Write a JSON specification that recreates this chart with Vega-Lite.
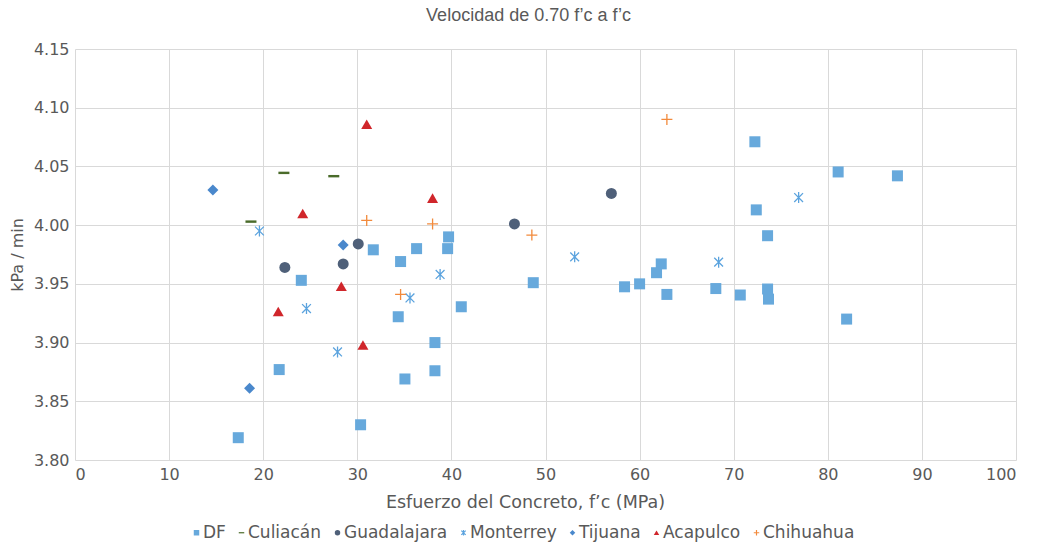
{
  "$schema": "https://vega.github.io/schema/vega-lite/v6.json",
  "width": 941,
  "height": 411,
  "autosize": {"type": "none"},
  "padding": {"left": 75, "top": 49, "right": 26, "bottom": 86},
  "background": "white",
  "title": {
    "text": "Velocidad de 0.70 f’c  a   f’c",
    "font": "Liberation Sans",
    "fontSize": 18,
    "fontWeight": "normal",
    "color": "#595959",
    "offset": 16,
    "anchor": "middle",
    "dx": -17
  },
  "data": {
    "values": [
      {"city": "DF", "x": 17.35, "y": 3.819},
      {"city": "DF", "x": 21.7, "y": 3.877},
      {"city": "DF", "x": 24.05, "y": 3.953},
      {"city": "DF", "x": 30.35, "y": 3.83},
      {"city": "DF", "x": 31.7, "y": 3.979},
      {"city": "DF", "x": 34.6, "y": 3.969},
      {"city": "DF", "x": 34.35, "y": 3.922},
      {"city": "DF", "x": 35.06, "y": 3.869},
      {"city": "DF", "x": 36.3, "y": 3.98},
      {"city": "DF", "x": 38.25, "y": 3.9},
      {"city": "DF", "x": 38.25, "y": 3.876},
      {"city": "DF", "x": 39.7, "y": 3.99},
      {"city": "DF", "x": 39.6, "y": 3.98},
      {"city": "DF", "x": 41.05, "y": 3.9305},
      {"city": "DF", "x": 48.7, "y": 3.951},
      {"city": "DF", "x": 58.4, "y": 3.9475},
      {"city": "DF", "x": 60.0, "y": 3.95},
      {"city": "DF", "x": 62.3, "y": 3.967},
      {"city": "DF", "x": 61.8, "y": 3.9595},
      {"city": "DF", "x": 62.9, "y": 3.941},
      {"city": "DF", "x": 68.1, "y": 3.946},
      {"city": "DF", "x": 70.7, "y": 3.9405},
      {"city": "DF", "x": 72.25, "y": 4.071},
      {"city": "DF", "x": 72.4, "y": 4.013},
      {"city": "DF", "x": 73.6, "y": 3.991},
      {"city": "DF", "x": 73.6, "y": 3.9456},
      {"city": "DF", "x": 73.7, "y": 3.937},
      {"city": "DF", "x": 81.1, "y": 4.0453},
      {"city": "DF", "x": 87.4, "y": 4.042},
      {"city": "DF", "x": 82.0, "y": 3.92},
      {"city": "Culiacán", "x": 18.7, "y": 4.003},
      {"city": "Culiacán", "x": 22.2, "y": 4.0445},
      {"city": "Culiacán", "x": 27.5, "y": 4.0417},
      {"city": "Guadalajara", "x": 22.3, "y": 3.964},
      {"city": "Guadalajara", "x": 28.5, "y": 3.967},
      {"city": "Guadalajara", "x": 30.1, "y": 3.984},
      {"city": "Guadalajara", "x": 46.7, "y": 4.001},
      {"city": "Guadalajara", "x": 57.0, "y": 4.027},
      {"city": "Monterrey", "x": 19.6, "y": 3.995},
      {"city": "Monterrey", "x": 24.6, "y": 3.929},
      {"city": "Monterrey", "x": 27.9, "y": 3.892},
      {"city": "Monterrey", "x": 35.6, "y": 3.938},
      {"city": "Monterrey", "x": 38.8, "y": 3.958},
      {"city": "Monterrey", "x": 53.1, "y": 3.973},
      {"city": "Monterrey", "x": 68.4, "y": 3.9685},
      {"city": "Monterrey", "x": 76.9, "y": 4.0235},
      {"city": "Tijuana", "x": 14.65, "y": 4.03},
      {"city": "Tijuana", "x": 28.5, "y": 3.983},
      {"city": "Tijuana", "x": 18.55, "y": 3.861},
      {"city": "Acapulco", "x": 24.2, "y": 4.01},
      {"city": "Acapulco", "x": 38.0, "y": 4.023},
      {"city": "Acapulco", "x": 28.3, "y": 3.948},
      {"city": "Acapulco", "x": 21.6, "y": 3.9265},
      {"city": "Acapulco", "x": 30.6, "y": 3.898},
      {"city": "Acapulco", "x": 31.0, "y": 4.086},
      {"city": "Chihuahua", "x": 31.0, "y": 4.004},
      {"city": "Chihuahua", "x": 38.0, "y": 4.001},
      {"city": "Chihuahua", "x": 34.6, "y": 3.941},
      {"city": "Chihuahua", "x": 48.55, "y": 3.9915},
      {"city": "Chihuahua", "x": 62.9, "y": 4.09}
    ]
  },
  "mark": {"type": "point", "filled": false, "size": 121, "strokeWidth": 1.3, "opacity": 1},
  "encoding": {
    "x": {
      "field": "x",
      "type": "quantitative",
      "scale": {"domain": [0, 100], "nice": false, "zero": false},
      "axis": {"values": [0,10,20,30,40,50,60,70,80,90,100], "labelOverlap": false, "title": "Esfuerzo del Concreto, f’c (MPa)", "titlePadding": 11, "titleX": 450, "titleAlign": "center", "titleFontSize": 17.5}
    },
    "y": {
      "field": "y",
      "type": "quantitative",
      "scale": {"domain": [3.8, 4.15], "nice": false, "zero": false},
      "axis": {"values": [3.8, 3.85, 3.9, 3.95, 4.0, 4.05, 4.1, 4.15], "labelOverlap": false, "format": ".2f", "title": "kPa / min", "titlePadding": 8}
    },
    "shape": {
      "field": "city",
      "type": "nominal",
      "sort": null,
      "scale": {
        "domain": ["DF", "Culiacán", "Guadalajara", "Monterrey", "Tijuana", "Acapulco", "Chihuahua"],
        "range": ["square", "M-1,-0.22L1,-0.22L1,0.22L-1,0.22Z", "circle", "M-0.8,-0.8L0.8,0.8M-0.8,0.8L0.8,-0.8M0,-1L0,1", "diamond", "triangle-up", "M-1,0L1,0M0,-1L0,1"]
      },
      "legend": {"title": null}
    },
    "fill": {
      "field": "city",
      "type": "nominal",
      "sort": null,
      "scale": {
        "domain": ["DF", "Culiacán", "Guadalajara", "Monterrey", "Tijuana", "Acapulco", "Chihuahua"],
        "range": ["#67A9DC", "#4A6B2A", "#4F6079", "transparent", "#4A88CC", "#D0262B", "transparent"]
      },
      "legend": null
    },
    "stroke": {
      "field": "city",
      "type": "nominal",
      "sort": null,
      "scale": {
        "domain": ["DF", "Culiacán", "Guadalajara", "Monterrey", "Tijuana", "Acapulco", "Chihuahua"],
        "range": ["transparent", "transparent", "transparent", "#5BA3DE", "transparent", "transparent", "#F28A3C"]
      },
      "legend": null
    }
  },
  "config": {
    "font": "DejaVu Sans",
    "view": {"stroke": null},
    "axis": {
      "grid": true,
      "gridColor": "#D9D9D9",
      "gridWidth": 1,
      "domain": false,
      "ticks": false,
      "labelFont": "DejaVu Sans",
      "labelFontSize": 16,
      "labelColor": "#595959",
      "titleFont": "DejaVu Sans",
      "titleFontSize": 16,
      "titleFontWeight": "normal",
      "titleColor": "#595959",
      "labelPadding": 6
    },
    "legend": {
      "orient": "none",
      "legendX": 113,
      "legendY": 475,
      "direction": "horizontal",
      "labelFont": "DejaVu Sans",
      "labelFontSize": 17,
      "labelColor": "#595959",
      "symbolSize": 30,
      "symbolStrokeWidth": 1.2,
      "labelOffset": -2,
      "columnPadding": 7,
      "padding": 0
    }
  }
}
